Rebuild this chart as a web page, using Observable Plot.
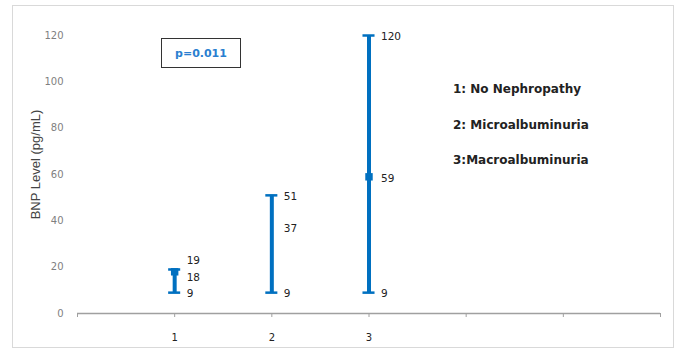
<!DOCTYPE html>
<html>
<head>
<meta charset="utf-8">
<script src="https://cdn.jsdelivr.net/npm/d3@7"></script>
<script src="https://cdn.jsdelivr.net/npm/@observablehq/plot@0.6"></script>
<style>
  html, body { margin: 0; padding: 0; background: #fff; }
  #wrap { position: relative; width: 677px; height: 351px; overflow: hidden; }
  #border { position: absolute; left: 12px; top: 5px; width: 660px; height: 341px; border: 1px solid #d9d9d9; }
  #chart { position: absolute; left: 0; top: 0; }
  .pbox { position: absolute; left: 161px; top: 38px; width: 78px; height: 28px; border: 1px solid #333;
          font: bold 11px "DejaVu Sans", sans-serif; color: #2a7fd0; display: flex; align-items: center; justify-content: center; background: #fff; }
  .legend { position: absolute; left: 453px; font: bold 12px "DejaVu Sans", sans-serif; color: #222; white-space: nowrap; }
</style>
</head>
<body>
<div id="wrap">
  <div id="border"></div>
  <div id="chart"></div>
  <div class="pbox" id="pbox"></div>
  <div id="legend"></div>
</div>
<script>
// Data
const groups = [1, 2, 3];
const lows = [9, 9, 9];
const highs = [19, 51, 120];
const mids = [18, 37, 59];
const showMid = [true, false, true];
// Where each label sits (data units)
const labelLowAt = [8.6, 8.6, 8.6];
const labelMidAt = [15.5, 36.7, 58.3];
const labelHighAt = [22.9, 50.5, 119.6];
const xTicks = [0, 1, 2, 3, 4, 5, 6];
const xTickLabels = ["", "1", "2", "3", "", "", ""];
const yTicks = [0, 20, 40, 60, 80, 100, 120];
const pValue = "p=0.011";
const legendItems = ["1: No Nephropathy", "2: Microalbuminuria", "3:Macroalbuminuria"];
const legendTops = [82, 118, 153];

const rows = groups.map((g, i) => ({g, lo: lows[i], hi: highs[i], mid: mids[i], show: showMid[i]}));
const labels = [];
groups.forEach((g, i) => {
  labels.push({g, v: labelHighAt[i], t: String(highs[i])});
  labels.push({g, v: labelMidAt[i], t: String(mids[i])});
  labels.push({g, v: labelLowAt[i], t: String(lows[i])});
});
const caps = [];
rows.forEach(r => { caps.push({g: r.g, v: r.lo}); caps.push({g: r.g, v: r.hi}); });

const blue = "#0070c0";
const capHalf = 0.062;

const chart = Plot.plot({
  width: 677,
  height: 351,
  marginLeft: 77,
  marginRight: 17,
  marginTop: 35,
  marginBottom: 38,
  style: {background: "transparent", overflow: "visible"},
  x: {domain: [0, 6], ticks: xTicks},
  y: {domain: [0, 120], ticks: yTicks},
  marks: [
    Plot.axisY({ticks: yTicks, tickSize: 0, tickPadding: 14, fill: "#7f7f7f", fontSize: 10,
      fontFamily: "'DejaVu Sans', sans-serif",
      label: "BNP Level (pg/mL)", labelAnchor: "center", labelArrow: "none", labelOffset: 47}),
    Plot.axisX({ticks: xTicks, tickSize: 4, stroke: "#a0a0a0", tickPadding: 16, fill: "#222", fontSize: 10,
      fontFamily: "'DejaVu Sans', sans-serif",
      tickFormat: d => xTickLabels[xTicks.indexOf(d)] ?? "", label: null}),
    Plot.ruleY([0], {stroke: "#a0a0a0", strokeWidth: 1.5}),
    Plot.ruleX(rows, {x: "g", y1: "lo", y2: "hi", stroke: blue, strokeWidth: 4}),
    Plot.ruleY(caps, {y: "v", x1: d => d.g - capHalf, x2: d => d.g + capHalf, stroke: blue, strokeWidth: 2.5}),
    Plot.dot(rows.filter(r => r.show), {x: "g", y: "mid", symbol: "square", r: 4.2, fill: blue, stroke: null}),
    Plot.text(labels, {x: "g", y: "v", text: "t", dx: 12, textAnchor: "start", fill: "#222", fontSize: 10.5,
      fontFamily: "'DejaVu Sans', sans-serif"})
  ]
});
document.getElementById("chart").appendChild(chart);
chart.querySelectorAll("[aria-label='y-axis label'] text").forEach(t => {
  t.setAttribute("fill", "#444");
  t.setAttribute("font-size", "13");
  t.setAttribute("font-family", "'Liberation Sans', sans-serif");
  t.setAttribute("dx", "10");
});

document.getElementById("pbox").textContent = pValue;
const leg = document.getElementById("legend");
legendItems.forEach((s, i) => {
  const d = document.createElement("div");
  d.className = "legend";
  d.style.top = legendTops[i] + "px";
  d.textContent = s;
  leg.appendChild(d);
});
</script>
</body>
</html>
